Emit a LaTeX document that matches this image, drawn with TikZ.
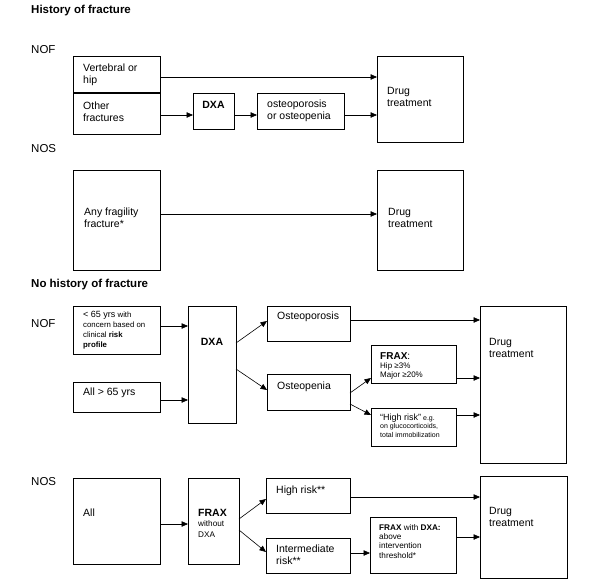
\documentclass[tikz,border=0pt]{standalone}
\usepackage{fontspec}
\setmainfont{Liberation Sans}
\usetikzlibrary{arrows.meta}
\newcommand\ml[1]{\begin{tabular}[t]{@{}l@{}}#1\end{tabular}}
\newcommand\bx[5]{\node[box, minimum width={(#4)-(#2)}, minimum height={(#5)-(#3)}] (#1) at (#2,#3) {};}
\tikzset{
  box/.style={draw=black, line width=0.8pt, anchor=north west, inner sep=0pt, outer sep=0pt},
  txt/.style={anchor=base west, inner sep=0pt, font=\fontsize{10.5}{12.5}\selectfont},
  hdr/.style={txt, font=\fontsize{11.5}{14}\selectfont\bfseries},
  lab/.style={txt, font=\fontsize{11.5}{14}\selectfont},
  bld/.style={txt, anchor=base, font=\fontsize{10.5}{12.5}\selectfont\bfseries},
  arr/.style={-{Triangle[length=6.5pt,width=5.5pt]}, line width=0.6pt}
}
\begin{document}
\begin{tikzpicture}[x=1pt,y=-1pt]
\useasboundingbox[fill=white] (0,0) rectangle (600,584);
% ---- History of fracture
\node[hdr] (h1) at (31,13) {History of fracture};
\node[lab] (nof1) at (31,53) {NOF};
\bx{vh}{73}{56}{160}{92}
\bx{of}{73}{93}{160}{134}
\bx{dxa1}{193}{93}{234}{129}
\bx{ost}{257}{93}{344}{129}
\bx{drug1}{377}{56}{463}{142}
\node[txt] (vht) at (83,71) {\ml{Vertebral or\\hip}};
\node[txt] (oft) at (83,109) {\ml{Other\\fractures}};
\node[bld] (dxa1t) at (213.5,108) {DXA};
\node[txt] (ostt) at (267,107) {\ml{osteoporosis\\or osteopenia}};
\node[txt] (drug1t) at (387,94) {\ml{Drug\\treatment}};
\draw[arr] (vh.east |- 0,77) -- (drug1.west |- 0,77);
\draw[arr] (of.east |- 0,115) -- (dxa1.west |- 0,115);
\draw[arr] (dxa1.east |- 0,115) -- (ost.west |- 0,115);
\draw[arr] (ost.east |- 0,115) -- (drug1.west |- 0,115);
\node[lab] (nos1) at (31,152) {NOS};
\bx{any}{73}{170}{160}{270}
\bx{drug2}{377}{170}{463}{270}
\node[txt] (anyt) at (84,215) {\ml{Any fragility\\fracture*}};
\node[txt] (drug2t) at (388,215) {\ml{Drug\\treatment}};
\draw[arr] (any.east |- 0,214) -- (drug2.west |- 0,214);
% ---- No history of fracture
\node[hdr] (h2) at (31,287) {No history of fracture};
\node[lab] (nof2) at (31,327) {NOF};
\bx{lt65}{73}{306}{160}{354}
\bx{dxa2}{188}{306}{236}{423}
\bx{all65}{73}{382}{160}{412}
\bx{osteop}{267}{306}{350}{341}
\bx{osteopen}{267}{374}{350}{410}
\bx{frax}{371}{345}{456}{383}
\bx{hr}{371}{408}{456}{446}
\bx{drug3}{480}{306}{566}{463}
\node[txt, font=\fontsize{7.8}{10.2}\selectfont] (lt65t) at (83,317) {\ml{{\fontsize{9}{10}\selectfont < 65 yrs} with\\concern based on\\clinical \textbf{risk}\\\textbf{profile}}};
\node[bld] (dxa2t) at (212,345) {DXA};
\node[txt] (all65t) at (83,395) {All > 65 yrs};
\node[txt] (osteopt) at (277,319) {Osteoporosis};
\node[txt] (osteopent) at (277,389) {Osteopenia};
\node[txt, font=\fontsize{8}{9}\selectfont] (fraxt) at (380,359) {\ml{{\fontsize{10}{9}\selectfont\textbf{FRAX}:}\\Hip ≥3\%\\Major ≥20\%}};
\node[txt, font=\fontsize{7}{8.6}\selectfont] (hrt) at (380,420) {\ml{{\fontsize{9}{9}\selectfont “High risk”} e.g.\\on glucocorticoids,\\total immobilization}};
\node[txt] (drug3t) at (489,345) {\ml{Drug\\treatment}};
\draw[arr] (lt65.east |- 0,326) -- (dxa2.west |- 0,326);
\draw[arr] (all65.east |- 0,400) -- (dxa2.west |- 0,400);
\draw[arr] (dxa2.east |- 0,343) -- (osteop.west |- 0,321);
\draw[arr] (dxa2.east |- 0,369) -- (osteopen.west |- 0,390);
\draw[arr] (osteop.east |- 0,320) -- (drug3.west |- 0,320);
\draw[arr] (osteopen.east |- 0,393) -- (frax.west |- 0,378);
\draw[arr] (osteopen.east |- 0,404) -- (hr.west |- 0,415);
\draw[arr] (frax.east |- 0,378) -- (drug3.west |- 0,378);
\draw[arr] (hr.east |- 0,415) -- (drug3.west |- 0,415);
\node[lab] (nos2) at (31,485) {NOS};
\bx{all}{73}{478}{160}{564}
\bx{frax2}{188}{478}{239}{564}
\bx{hr2}{266}{478}{350}{513}
\bx{inter}{266}{538}{350}{573}
\bx{fxd}{370}{517}{456}{573}
\bx{drug4}{480}{476}{567}{578}
\node[txt] (allt) at (83,516) {All};
\node[txt, font=\fontsize{8.2}{10.5}\selectfont] (frax2t) at (198,516) {\ml{{\fontsize{10.5}{10}\selectfont\textbf{FRAX}}\\without\\DXA}};
\node[txt] (hr2t) at (276,493) {High risk**};
\node[txt] (intert) at (276,552) {\ml{Intermediate\\risk**}};
\node[txt, font=\fontsize{8.2}{9.4}\selectfont] (fxdt) at (379,530) {\ml{\textbf{FRAX} with \textbf{DXA:}\\above\\intervention\\threshold*}};
\node[txt] (drug4t) at (489,514) {\ml{Drug\\treatment}};
\draw[arr] (all.east |- 0,524) -- (frax2.west |- 0,524);
\draw[arr] (frax2.east |- 0,519) -- (hr2.west |- 0,499);
\draw[arr] (frax2.east |- 0,530) -- (inter.west |- 0,552);
\draw[arr] (hr2.east |- 0,497) -- (drug4.west |- 0,497);
\draw[arr] (inter.east |- 0,553) -- (fxd.west |- 0,553);
\draw[arr] (fxd.east |- 0,537) -- (drug4.west |- 0,537);
\end{tikzpicture}
\end{document}
